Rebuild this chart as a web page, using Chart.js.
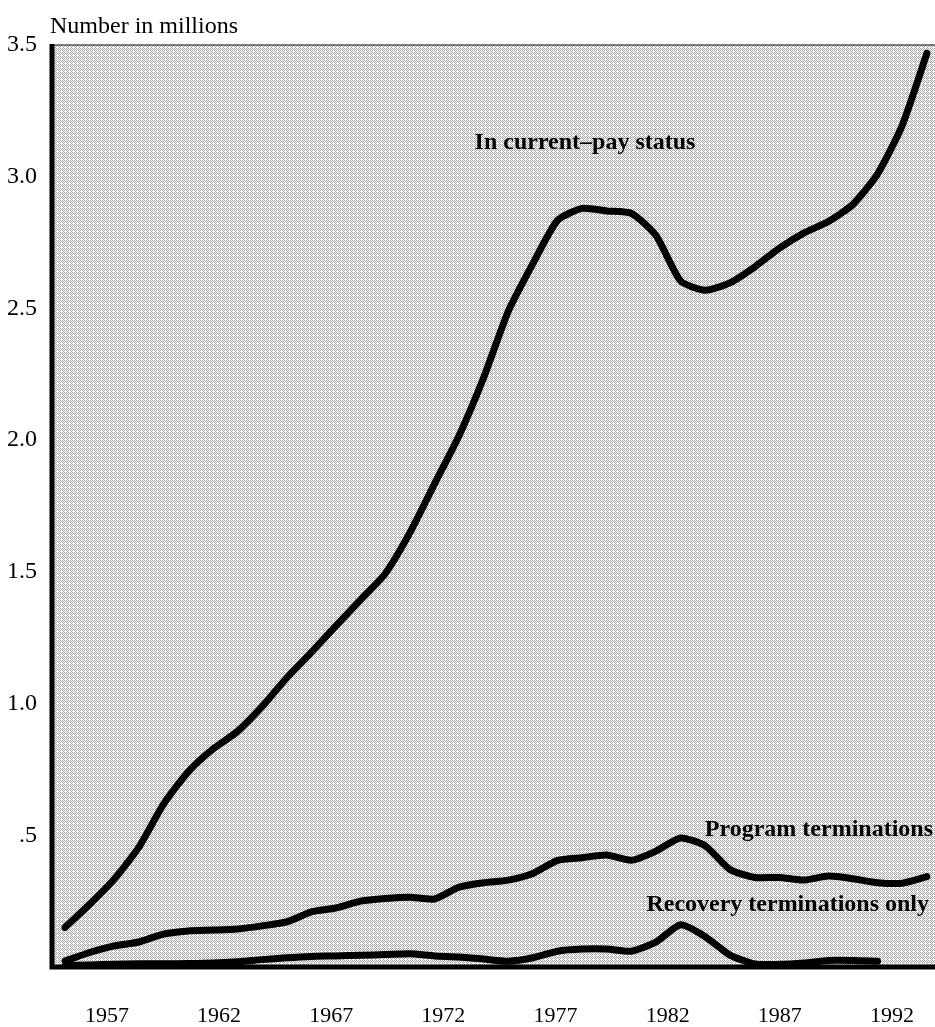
<!DOCTYPE html>
<html>
<head>
<meta charset="utf-8">
<script src="https://cdn.jsdelivr.net/npm/chart.js@4.4.1/dist/chart.umd.min.js"></script>
<style>
  html, body { margin: 0; padding: 0; background: #fff; }
  #grafico { display: block; }
</style>
</head>
<body>
<canvas id="grafico" width="935" height="1027"></canvas>
<script>
// DATA YEARS (END OF YEAR)
const anos = [1957, 1958, 1959, 1960, 1961, 1962, 1963, 1964, 1965, 1966, 1967, 1968,
    1969, 1970, 1971, 1972, 1973, 1974, 1975, 1976, 1977, 1978, 1979, 1980,
    1981, 1982, 1983, 1984, 1985, 1986, 1987, 1988, 1989, 1990, 1991, 1992];

// NUMBER IN MILLIONS
const emPagamento = [0.150, 0.238, 0.334, 0.455, 0.618, 0.741, 0.827, 0.894, 0.988, 1.097, 1.194, 1.295,
    1.394, 1.493, 1.648, 1.833, 2.017, 2.237, 2.489, 2.670, 2.834, 2.880, 2.870, 2.861,
    2.777, 2.604, 2.569, 2.597, 2.657, 2.728, 2.786, 2.830, 2.895, 3.011, 3.195, 3.468];

const terminacoesPrograma = [0.023, 0.055, 0.080, 0.095, 0.125, 0.137, 0.140, 0.144, 0.156, 0.171, 0.209, 0.224,
    0.250, 0.260, 0.265, 0.258, 0.303, 0.320, 0.330, 0.355, 0.405, 0.415, 0.425, 0.405,
    0.440, 0.490, 0.460, 0.370, 0.340, 0.340, 0.330, 0.345, 0.335, 0.320, 0.318, 0.343];

// RECOVERY SERIES STOPS AT 1990
const terminacoesRecuperacao = [0.005, 0.008, 0.010, 0.012, 0.012, 0.013, 0.015, 0.020, 0.028, 0.035, 0.040, 0.042,
    0.045, 0.047, 0.050, 0.042, 0.038, 0.030, 0.022, 0.035, 0.060, 0.068, 0.068, 0.060,
    0.095, 0.160, 0.115, 0.045, 0.012, 0.010, 0.015, 0.025, 0.025, 0.022];

// TICK LABELS
const rotulosAnos = [1957, 1962, 1967, 1972, 1977, 1982, 1987, 1992];
const rotulosValores = [0.5, 1.0, 1.5, 2.0, 2.5, 3.0, 3.5];

const fonteSerif = '"Liberation Serif", "Times New Roman", serif';

function pontos(valores) {
    return valores.map((v, i) => ({ x: anos[i], y: v }));
}

// HALFTONE-LIKE BACKGROUND
function criarPadrao(ctx) {
    const c = document.createElement('canvas');
    c.width = 4; c.height = 4;
    const p = c.getContext('2d');
    p.fillStyle = '#ffffff';
    p.fillRect(0, 0, 4, 4);
    p.fillStyle = '#a4a4a4';
    [[0, 0], [2, 0], [1, 1], [3, 1], [0, 2], [2, 2], [3, 3]].forEach(([x, y]) => p.fillRect(x, y, 1, 1));
    return ctx.createPattern(c, 'repeat');
}

// no extra side padding from the year labels
function semPadding(scale) {
    scale.paddingLeft = 0;
    scale.paddingRight = 0;
}

const moldura = {
    id: 'moldura',
    beforeDatasetsDraw(chart) {
        const { ctx, chartArea: a } = chart;
        ctx.save();
        ctx.fillStyle = criarPadrao(ctx);
        ctx.fillRect(a.left, a.top, a.right - a.left, a.bottom - a.top);
        ctx.restore();
    },
    afterDatasetsDraw(chart) {
        const { ctx, chartArea: a } = chart;
        ctx.save();
        // top border
        ctx.strokeStyle = '#555';
        ctx.lineWidth = 1.5;
        ctx.beginPath();
        ctx.moveTo(a.left, a.top);
        ctx.lineTo(a.right, a.top);
        ctx.stroke();
        // left and bottom axes
        ctx.strokeStyle = '#000';
        ctx.lineWidth = 5;
        ctx.beginPath();
        ctx.moveTo(a.left, a.top - 1);
        ctx.lineTo(a.left, a.bottom);
        ctx.lineTo(a.right, a.bottom);
        ctx.stroke();

        // series labels
        ctx.fillStyle = '#000';
        ctx.font = 'bold 24px ' + fonteSerif;
        ctx.textBaseline = 'middle';
        ctx.textAlign = 'center';
        ctx.fillText('In current\u2013pay status', 585, 143);
        ctx.textAlign = 'right';
        ctx.fillText('Program terminations', 933, 830);
        ctx.fillText('Recovery terminations only', 929, 905);

        // unit title
        ctx.font = '24px ' + fonteSerif;
        ctx.textAlign = 'left';
        ctx.textBaseline = 'alphabetic';
        ctx.fillText('Number in millions', 50, 33);
        ctx.restore();
    }
};

const estiloLinha = {
    borderColor: '#000',
    borderWidth: 7,
    pointRadius: 0,
    tension: 0.2,
    borderCapStyle: 'round',
    borderJoinStyle: 'round',
    fill: false,
    xAxisID: 'x'
};

const ctx = document.getElementById('grafico');

new Chart(ctx, {
    type: 'line',
    data: {
        datasets: [
            { label: 'In current-pay status', data: pontos(emPagamento), ...estiloLinha },
            { label: 'Program terminations', data: pontos(terminacoesPrograma), ...estiloLinha },
            { label: 'Recovery terminations only', data: pontos(terminacoesRecuperacao), ...estiloLinha }
        ]
    },
    options: {
        responsive: false,
        animation: false,
        layout: { padding: { top: 45, right: 0, left: 0, bottom: 0 } },
        plugins: {
            legend: { display: false },
            tooltip: { enabled: false }
        },
        scales: {
            // data axis (hidden)
            x: {
                type: 'linear',
                display: false,
                min: 1956.47,
                max: 1992.33
            },
            // printed year labels
            xl: {
                type: 'linear',
                position: 'bottom',
                min: 1954.55,
                max: 1993.92,
                afterBuildTicks: (scale) => { scale.ticks = rotulosAnos.map(v => ({ value: v })); },
                afterFit: (scale) => { scale.height = 60; semPadding(scale); },
                grid: { display: false, drawTicks: false },
                border: { display: false },
                ticks: {
                    autoSkip: false,
                    maxRotation: 0,
                    padding: 36,
                    color: '#000',
                    font: { family: fonteSerif, size: 22 },
                    callback: (v) => String(v)
                }
            },
            y: {
                min: 0,
                max: 3.5,
                afterBuildTicks: (scale) => { scale.ticks = rotulosValores.map(v => ({ value: v })); },
                afterFit: (scale) => { scale.width = 52; scale.paddingTop = 0; scale.paddingBottom = 0; },
                grid: { display: false, drawTicks: false },
                border: { display: false },
                ticks: {
                    autoSkip: false,
                    padding: 15,
                    color: '#000',
                    font: { family: fonteSerif, size: 24 },
                    callback: (v) => (v < 1 ? '.5' : v.toFixed(1))
                }
            }
        }
    },
    plugins: [moldura]
});
</script>
</body>
</html>
